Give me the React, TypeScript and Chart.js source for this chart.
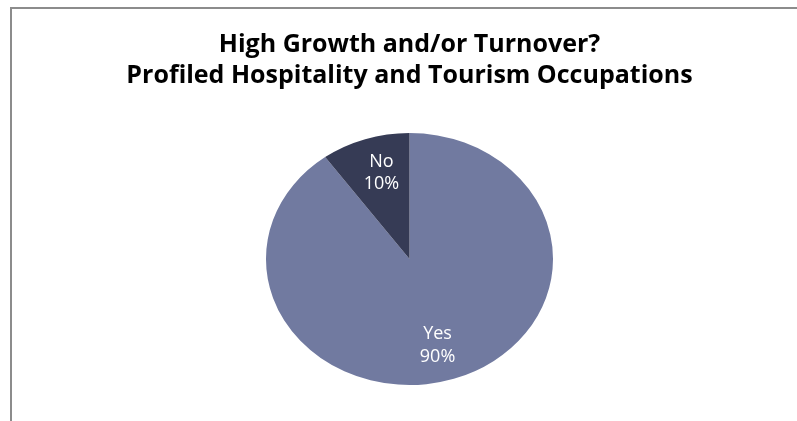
import React, { useEffect, useRef } from "react";
import { Chart, registerables } from "chart.js";

Chart.register(...registerables);

const categories = ["Yes", "No"];
const shares = [90, 10];
const sliceColors = ["#717AA0", "#363B55"];
const titleLines = ["High Growth and/or Turnover?", "Profiled Hospitality and Tourism Occupations"];

const X_STRETCH = 1.139;

const ellipsePlugin = {
  id: "ellipse",
  beforeDatasetsDraw(chart: any) {
    const meta = chart.getDatasetMeta(0);
    const cx = meta.data[0]?.x ?? chart.width / 2;
    const ctx = chart.ctx;
    ctx.save();
    ctx.translate(cx, 0);
    ctx.scale(X_STRETCH, 1);
    ctx.translate(-cx, 0);
  },
  afterDatasetsDraw(chart: any) {
    const ctx = chart.ctx;
    ctx.restore();
    const meta = chart.getDatasetMeta(0);
    const data = chart.data.datasets[0].data as number[];
    const total = data.reduce((a, b) => a + b, 0);
    ctx.save();
    ctx.fillStyle = "#ffffff";
    ctx.font = '18px "Open Sans"';
    ctx.textAlign = "center";
    ctx.textBaseline = "middle";
    meta.data.forEach((arc: any, i: number) => {
      const mid = (arc.startAngle + arc.endAngle) / 2;
      const r = arc.outerRadius * 0.72;
      const x = arc.x + Math.cos(mid) * r;
      const y = arc.y + Math.sin(mid) * r;
      const pct = Math.round((data[i] / total) * 100) + "%";
      ctx.fillText(String(chart.data.labels[i]), x, y - 11);
      ctx.fillText(pct, x, y + 11.5);
    });
    ctx.restore();
  },
};

export default function App() {
  const ref = useRef<HTMLCanvasElement | null>(null);
  useEffect(() => {
    document.body.style.margin = "0";
    if (!ref.current) return;
    const chart = new Chart(ref.current, {
      type: "pie",
      data: {
        labels: categories,
        datasets: [
          {
            data: shares,
            backgroundColor: sliceColors,
            borderWidth: 0,
          },
        ],
      },
      options: {
        animation: false,
        responsive: false,
        devicePixelRatio: 1,
        layout: { padding: { left: 22, right: 0, top: 0, bottom: 36 } },
        plugins: {
          legend: { display: false },
          tooltip: { enabled: false },
          title: {
            display: true,
            text: titleLines,
            color: "#000000",
            font: { family: '"Open Sans"', size: 25, weight: "bold", lineHeight: 1.24 },
            padding: { top: 29.5, bottom: 41.5 },
          },
        },
      },
      plugins: [ellipsePlugin],
    });
    return () => chart.destroy();
  }, []);
  return (
    <div style={{ position: "relative", width: 797, height: 421, background: "#fff", overflow: "hidden" }}>
      <canvas ref={ref} width={797} height={421} style={{ position: "absolute", left: 0, top: 0 }} />
      <div
        style={{
          position: "absolute",
          left: 10,
          top: 7,
          width: 797,
          height: 430,
          borderTop: "2px solid #8c8c8c",
          borderLeft: "2px solid #8c8c8c",
          pointerEvents: "none",
        }}
      />
    </div>
  );
}
